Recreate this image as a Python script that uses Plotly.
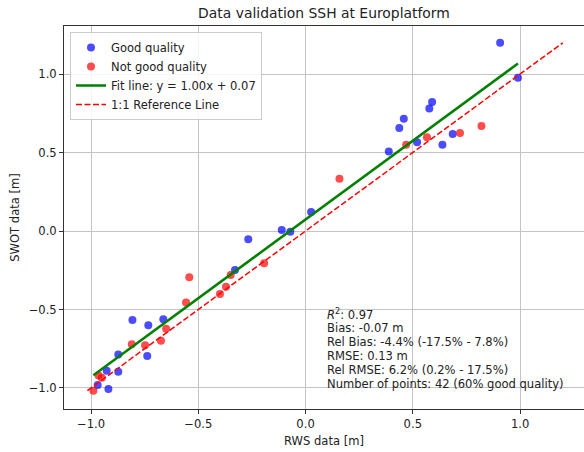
import plotly.graph_objects as go

# ---- data ----
good_x = [0.907, 0.990, 0.590, 0.577, 0.458, 0.437, 0.388, 0.520, 0.638, 0.686,
          0.026, -0.111, -0.071, -0.267, -0.329, -0.663, -0.733, -0.807, -0.738,
          -0.873, -0.873, -0.927, -0.969, -0.919]
good_y = [1.199, 0.977, 0.822, 0.781, 0.715, 0.656, 0.507, 0.565, 0.550, 0.618,
          0.121, 0.006, -0.004, -0.053, -0.248, -0.563, -0.601, -0.567, -0.796,
          -0.786, -0.896, -0.890, -0.981, -1.006]
bad_x = [0.469, 0.566, 0.720, 0.820, 0.158, -0.193, -0.349, -0.542, -0.371,
         -0.399, -0.557, -0.650, -0.674, -0.748, -0.810, -0.965, -0.950, -0.989]
bad_y = [0.550, 0.597, 0.624, 0.669, 0.333, -0.206, -0.280, -0.295, -0.355,
         -0.401, -0.456, -0.622, -0.699, -0.728, -0.722, -0.920, -0.935, -1.017]

fit_slope = 1.0035
fit_intercept = 0.073

stats_lines = [
    "<i>R</i><sup>2</sup>: 0.97",
    "Bias: -0.07 m",
    "Rel Bias: -4.4% (-17.5% - 7.8%)",
    "RMSE: 0.13 m",
    "Rel RMSE: 6.2% (0.2% - 17.5%)",
    "Number of points: 42 (60% good quality)",
]

tick_vals = [-1.0, -0.5, 0.0, 0.5, 1.0]
tick_text = ["\u22121.0", "\u22120.5", "0.0", "0.5", "1.0"]

title_text = "Data validation SSH at Europlatform"
x_title = "RWS data [m]"
y_title = "SWOT data [m]"

# ---- layout geometry (pixels) ----
W, H = 584, 452
L, R, T, B = 64, 0, 26, 43
FONT = "DejaVu Sans"
FS = 11.55
TXT = "#222222"

all_x = good_x + bad_x
all_y = good_y + bad_y
fx0, fx1 = min(all_x), max(all_x)
ref0 = min(all_x + all_y)
ref1 = max(all_x + all_y)

fig = go.Figure()
fig.add_trace(go.Scatter(
    x=good_x, y=good_y, mode="markers", name="Good quality",
    marker=dict(color="rgba(0,0,255,0.7)", size=8, line=dict(width=0)),
))
fig.add_trace(go.Scatter(
    x=bad_x, y=bad_y, mode="markers", name="Not good quality",
    marker=dict(color="rgba(255,0,0,0.7)", size=8, line=dict(width=0)),
))
fig.add_trace(go.Scatter(
    x=[fx0, fx1], y=[fit_slope * fx0 + fit_intercept, fit_slope * fx1 + fit_intercept],
    mode="lines", name=f"Fit line: y = {fit_slope:.2f}x + {fit_intercept:.2f}",
    line=dict(color="green", width=2.5),
))
fig.add_trace(go.Scatter(
    x=[ref0, ref1], y=[ref0, ref1], mode="lines", name="1:1 Reference Line",
    line=dict(color="red", width=1.5, dash="6px,2.5px"),
))

pw = W - L - R
ph = H - T - B


def px2paper_x(px):
    return (px - L) / pw


def px2paper_y(py):
    return (H - B - py) / ph


# white box behind stats text
fig.add_shape(type="rect", xref="paper", yref="paper",
              x0=px2paper_x(322), x1=px2paper_x(570),
              y0=px2paper_y(394), y1=px2paper_y(300),
              fillcolor="white", line=dict(width=0), layer="between")

for i, line in enumerate(stats_lines):
    fig.add_annotation(
        text=line, xref="paper", yref="paper",
        x=px2paper_x(325), y=px2paper_y(313.5 + 14 * i),
        xanchor="left", yanchor="middle", showarrow=False,
        font=dict(family=FONT, size=FS, color=TXT),
    )

axis_common = dict(
    showgrid=True, gridcolor="#c4c4c4", gridwidth=1,
    zeroline=False, showline=True, linecolor="#333333", linewidth=1,
    ticks="outside", ticklen=4, tickcolor="#333333",
    tickfont=dict(family=FONT, size=FS, color=TXT),
    tickvals=tick_vals, ticktext=tick_text,
)

fig.update_layout(
    width=W, height=H,
    margin=dict(l=L, r=R, t=T, b=B, pad=0),
    paper_bgcolor="white", plot_bgcolor="white",
    font=dict(family=FONT, size=FS, color=TXT),
    title=dict(text=title_text, x=0.5, xref="paper", xanchor="center",
               y=1 - 13 / H, yref="container", yanchor="middle",
               font=dict(family=FONT, size=13.9, color=TXT)),
    xaxis=dict(range=[-1.126, 1.298], mirror=True, **axis_common,
               title=dict(text=x_title, standoff=7, font=dict(family=FONT, size=FS))),
    yaxis=dict(range=[-1.134, 1.306], **axis_common,
               title=dict(text=y_title, standoff=6, font=dict(family=FONT, size=FS))),
    legend=dict(x=px2paper_x(70), y=px2paper_y(32), xanchor="left", yanchor="top",
                bgcolor="rgba(255,255,255,0.85)", bordercolor="#cccccc", borderwidth=1,
                font=dict(family=FONT, size=FS, color=TXT),
                tracegroupgap=0),
    showlegend=True,
)

fig.write_html("out.html")
